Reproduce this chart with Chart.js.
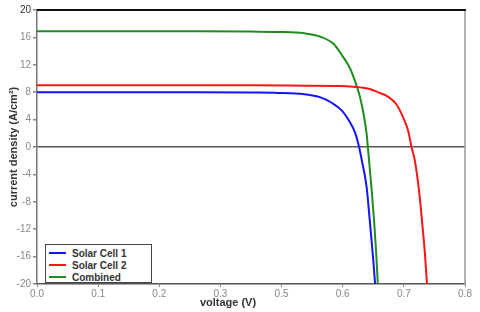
<!DOCTYPE html>
<html>
<head>
<meta charset="utf-8">
<script src="https://cdn.jsdelivr.net/npm/chart.js@4/dist/chart.umd.min.js"></script>
<style>
  body { margin: 0; background: #fff; }
  #wrap { position: relative; width: 480px; height: 312px; }
  #legend {
    position: absolute; left: 45px; top: 244px; width: 107px; height: 39px;
    border: 1px solid #444; background: #fff; font: bold 10px "Liberation Sans", Arial, sans-serif;
    color: #333; padding-top: 2px; box-sizing: border-box;
  }
  .row { display: flex; align-items: center; height: 12px; }
  .swatch { width: 17px; height: 2px; margin: 0 6px 0 3px; }
</style>
</head>
<body>
<div id="wrap">
  <canvas id="chart" width="480" height="312"></canvas>
  <div id="legend"></div>
</div>
<script>
// Eixo x: 7 intervalos iguais, rótulos como na figura
const xTickLabels = ['0.0', '0.1', '0.2', '0.3', '0.5', '0.6', '0.7', '0.8'];
const yTicks = [-20, -16, -12, -8, -4, 0, 4, 8, 12, 16, 20];

// Solar Cell 1
const cell1V = [0, 0.1, 0.2, 0.3, 0.4, 0.45, 0.5, 0.53, 0.55, 0.57, 0.585, 0.595, 0.602, 0.607, 0.616, 0.622, 0.628, 0.632];
const cell1J = [8.0, 8.0, 8.0, 8.0, 7.95, 7.9, 7.7, 7.25, 6.5, 5.3, 3.6, 2.0, 0.0, -1.9, -5.8, -10.7, -16.0, -20];

// Solar Cell 2
const cell2V = [0, 0.1, 0.2, 0.3, 0.4, 0.5, 0.566, 0.59, 0.62, 0.64, 0.655, 0.672, 0.685, 0.694, 0.7, 0.706, 0.714, 0.72, 0.725, 0.729];
const cell2J = [9.0, 9.0, 9.0, 9.0, 9.0, 8.95, 8.9, 8.8, 8.5, 7.9, 7.4, 6.2, 4.2, 2.3, 0.0, -1.9, -6.3, -11.1, -15.5, -20];

// Combined
const combV = [0, 0.1, 0.2, 0.3, 0.4, 0.45, 0.5, 0.53, 0.555, 0.57, 0.585, 0.595, 0.602, 0.609, 0.616, 0.619, 0.625, 0.63, 0.634, 0.637];
const combJ = [16.9, 16.9, 16.9, 16.9, 16.85, 16.8, 16.6, 16.1, 15.0, 13.4, 11.5, 9.5, 7.8, 5.4, 2.0, -0.5, -5.8, -10.7, -15.5, -20];

const seriesNames = ['Solar Cell 1', 'Solar Cell 2', 'Combined'];
const seriesColors = ['#1414ff', '#ff1414', '#1e8c1e'];

const X_MAX = 0.8;
const FONT = '"Liberation Sans", Arial, sans-serif';

function toPoints(xs, ys) {
    return xs.map((x, i) => ({ x: x, y: ys[i] }));
}

// Moldura (topo preto, direita cinza) e título do eixo x
const framePlugin = {
    id: 'frame',
    afterDraw(chart) {
        const a = chart.chartArea;
        const c = chart.ctx;
        c.save();
        c.strokeStyle = '#999';
        c.lineWidth = 1.5;
        c.beginPath();
        c.moveTo(a.right, a.top);
        c.lineTo(a.right, a.bottom);
        c.stroke();
        c.strokeStyle = '#111';
        c.lineWidth = 2;
        c.beginPath();
        c.moveTo(a.left, a.top);
        c.lineTo(a.right + 1, a.top);
        c.stroke();
        c.fillStyle = '#333';
        c.font = 'bold 11px ' + FONT;
        c.textAlign = 'center';
        c.textBaseline = 'middle';
        c.fillText('voltage (V)', 228, 303);
        c.restore();
    }
};

const chart = new Chart(document.getElementById('chart'), {
    type: 'line',
    data: {
        datasets: [
            { label: seriesNames[0], data: toPoints(cell1V, cell1J) },
            { label: seriesNames[1], data: toPoints(cell2V, cell2J) },
            { label: seriesNames[2], data: toPoints(combV, combJ) }
        ].map((d, i) => Object.assign(d, {
            borderColor: seriesColors[i],
            backgroundColor: seriesColors[i],
            borderWidth: 2,
            pointRadius: 0,
            cubicInterpolationMode: 'monotone',
            fill: false
        }))
    },
    options: {
        responsive: false,
        animation: false,
        layout: { padding: { top: 10, right: 15, left: 0, bottom: 0 } },
        plugins: { legend: { display: false }, tooltip: { enabled: false } },
        scales: {
            x: {
                type: 'linear',
                min: 0,
                max: X_MAX,
                afterBuildTicks: s => { s.ticks = xTickLabels.map((l, i) => ({ value: i * X_MAX / 7 })); },
                afterFit: s => { s.height = 28; },
                ticks: {
                    callback: (v, i) => xTickLabels[i],
                    color: '#888',
                    font: { family: FONT, size: 10 },
                    padding: 1,
                    maxRotation: 0
                },
                grid: { drawOnChartArea: false, drawTicks: true, tickLength: 3, tickColor: '#888' },
                border: { display: true, color: '#555', width: 1.5 }
            },
            y: {
                min: -20,
                max: 20,
                afterBuildTicks: s => { s.ticks = yTicks.map(v => ({ value: v })); },
                afterFit: s => { s.width = 37; },
                ticks: {
                    color: c => c.tick.value === 20 ? '#333' : '#888',
                    font: { family: FONT, size: 10 },
                    padding: 2
                },
                grid: {
                    color: c => (c.tick && c.tick.value === 0) ? '#555' : 'rgba(0,0,0,0)',
                    lineWidth: 1.5,
                    tickLength: 4,
                    tickColor: '#888'
                },
                border: { display: true, color: '#777', width: 1.5 },
                title: {
                    display: true,
                    text: 'current density (A/cm²)',
                    color: '#333',
                    font: { family: FONT, size: 11, weight: 'bold' },
                    padding: { top: 7, bottom: 0 }
                }
            }
        }
    },
    plugins: [framePlugin]
});

// Legenda em HTML dentro da área do gráfico
const legendEl = document.getElementById('legend');
chart.data.datasets.forEach(ds => {
    const row = document.createElement('div');
    row.className = 'row';
    row.innerHTML = `<span class="swatch" style="background:${ds.borderColor}"></span><span>${ds.label}</span>`;
    legendEl.appendChild(row);
});
</script>
</body>
</html>
